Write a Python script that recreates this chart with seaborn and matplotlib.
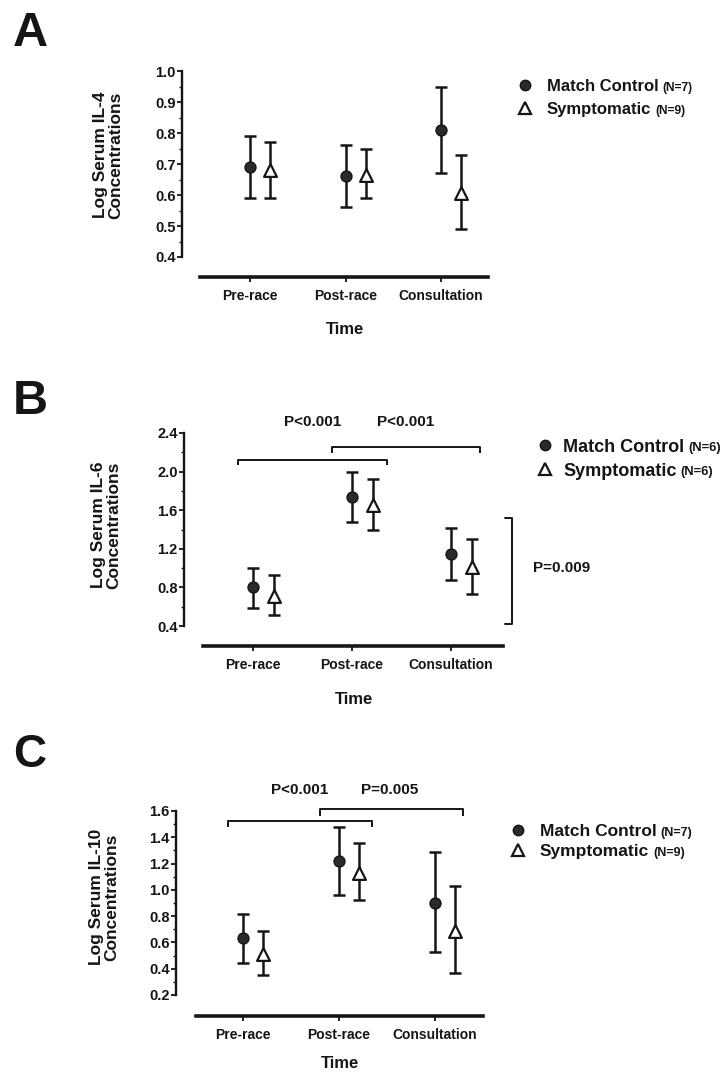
import matplotlib
matplotlib.use("Agg")
import matplotlib.pyplot as plt
import seaborn as sns
import numpy as np

# ---------------- data ----------------
times = ["Pre-race", "Post-race", "Consultation"]

il4_mc = [0.69, 0.66, 0.81]
il4_mc_lo = [0.59, 0.56, 0.67]
il4_mc_hi = [0.79, 0.76, 0.95]
il4_sy = [0.68, 0.665, 0.605]
il4_sy_lo = [0.59, 0.59, 0.49]
il4_sy_hi = [0.77, 0.75, 0.73]

il6_mc = [0.80, 1.74, 1.15]
il6_mc_lo = [0.59, 1.48, 0.88]
il6_mc_hi = [1.00, 2.00, 1.42]
il6_sy = [0.71, 1.65, 1.01]
il6_sy_lo = [0.51, 1.40, 0.73]
il6_sy_hi = [0.93, 1.92, 1.30]

il10_mc = [0.63, 1.22, 0.90]
il10_mc_lo = [0.44, 0.96, 0.53]
il10_mc_hi = [0.82, 1.48, 1.29]
il10_sy = [0.51, 1.13, 0.69]
il10_sy_lo = [0.35, 0.92, 0.37]
il10_sy_hi = [0.69, 1.36, 1.03]

a_yticks = [0.4, 0.5, 0.6, 0.7, 0.8, 0.9, 1.0]
b_yticks = [0.4, 0.8, 1.2, 1.6, 2.0, 2.4]
c_yticks = [0.2, 0.4, 0.6, 0.8, 1.0, 1.2, 1.4, 1.6]

a_n = ["(N=7)", "(N=9)"]
b_n = ["(N=6)", "(N=6)"]
c_n = ["(N=7)", "(N=9)"]

# ---------------- style ----------------
sns.set_style("ticks")
plt.rcParams["font.family"] = ["Liberation Sans", "DejaVu Sans"]
plt.rcParams["font.weight"] = "bold"

W, H = 725, 1074
DPI = 100
fig = plt.figure(figsize=(W / DPI, H / DPI), dpi=DPI)
INK = "#151515"
PX = 72.0 / DPI  # points per pixel

ov = fig.add_axes([0, 0, 1, 1], zorder=-1)
ov.set_xlim(0, W)
ov.set_ylim(H, 0)
ov.axis("off")


def make_panel(box, xl, xstart, ylim, yticks, minor_step, axis_off,
               mc, mc_lo, mc_hi, sy, sy_lo, sy_hi, tick_fs=10.5):
    l, r, t, b = box
    ax = fig.add_axes([l / W, 1 - b / H, (r - l) / W, (b - t) / H])
    ax.set_facecolor("none")
    xs = np.arange(len(times))
    off = 0.21
    mc = np.array(mc); sy = np.array(sy)
    ax.errorbar(xs, mc, yerr=[mc - np.array(mc_lo), np.array(mc_hi) - mc],
                fmt="none", ecolor=INK, elinewidth=1.8, capsize=4.6,
                capthick=1.8, zorder=2, clip_on=False)
    ax.errorbar(xs + off, sy, yerr=[sy - np.array(sy_lo), np.array(sy_hi) - sy],
                fmt="none", ecolor=INK, elinewidth=1.8, capsize=4.6,
                capthick=1.8, zorder=2, clip_on=False)
    sns.scatterplot(x=xs, y=mc, marker="o", s=62, color="#2a2a2a",
                    edgecolor=INK, linewidth=1.0, ax=ax, zorder=3, clip_on=False)
    sns.scatterplot(x=xs + off, y=sy, marker="^", s=85, color="white",
                    edgecolor=INK, linewidth=1.6, ax=ax, zorder=3, clip_on=False)
    ax.set_xlim(*xl)
    ax.set_ylim(*ylim)
    ax.set_yticks(yticks)
    ax.set_yticklabels([f"{v:.1f}" for v in yticks], fontsize=tick_fs,
                       fontweight="bold")
    ax.set_yticks(np.arange(ylim[0] + minor_step, ylim[1], minor_step), minor=True)
    ax.set_xticks(xs)
    ax.set_xticklabels(times, fontsize=11, fontweight="bold")
    for s in ["top", "right"]:
        ax.spines[s].set_visible(False)
    ax.spines["left"].set_linewidth(1.7)
    ax.spines["left"].set_color(INK)
    ax.spines["bottom"].set_linewidth(2.6)
    ax.spines["bottom"].set_color(INK)
    ax.spines["bottom"].set_position(("outward", axis_off * PX))
    ax.spines["bottom"].set_bounds(xstart, xl[1])
    ax.tick_params(axis="y", which="major", length=3.5, width=1.3, pad=1,
                   colors=INK)
    ax.tick_params(axis="y", which="minor", length=2.0, width=1.0, colors=INK)
    ax.tick_params(axis="x", length=3.5, width=1.3, pad=5, colors=INK)
    ax.set_xlabel("")
    ax.set_ylabel("")
    ax.grid(False)
    return ax


def bracket(ax, x0, x1, y, ydrop):
    ax.plot([x0, x0, x1, x1], [ydrop, y, y, ydrop], color=INK, lw=1.4,
            clip_on=False, solid_capstyle="butt")


def legend(x_mk, x_txt, y1, y2, fs, nlabels):
    ov.plot([x_mk], [y1], marker="o", ms=7.5, color="#2a2a2a", mec=INK, mew=1)
    ov.plot([x_mk], [y2], marker="^", ms=9, color="white", mec=INK, mew=1.6)
    cap = 0.36 * fs / PX  # half cap height in pixels
    texts = []
    for lab, y in [("Match Control", y1), ("Symptomatic", y2)]:
        texts.append(ov.text(x_txt, y + cap, lab, fontsize=fs, fontweight="bold",
                             va="baseline", ha="left", color=INK))
    fig.canvas.draw()
    for t, lab, y in zip(texts, nlabels, [y1, y2]):
        bb = t.get_window_extent()
        ov.text(bb.x1 + 4, y + cap, lab, fontsize=fs * 0.72, fontweight="bold",
                va="baseline", ha="left", color=INK)


# ---------------- Panel A ----------------
axA = make_panel((182, 488, 71, 257), (-0.712, 2.492), -0.524, (0.4, 1.0),
                 a_yticks, 0.05, 20,
                 il4_mc, il4_mc_lo, il4_mc_hi, il4_sy, il4_sy_lo, il4_sy_hi)
ov.text(13, 34, "A", fontsize=35, fontweight="bold", va="center", ha="left", color=INK)
ov.text(108, 155, "Log Serum IL-4\nConcentrations", rotation=90, fontsize=12.5,
        fontweight="bold", ha="center", va="center", linespacing=1.0, color=INK)
ov.text(345, 329, "Time", fontsize=12, fontweight="bold", ha="center",
        va="center", color=INK)
legend(525, 547, 85, 108, 12, a_n)

# ---------------- Panel B ----------------
axB = make_panel((184, 503, 433, 626), (-0.697, 2.525), -0.505, (0.4, 2.4),
                 b_yticks, 0.2, 20,
                 il6_mc, il6_mc_lo, il6_mc_hi, il6_sy, il6_sy_lo, il6_sy_hi)
bracket(axB, -0.15, 1.35, 2.12, 2.07)
bracket(axB, 0.80, 2.29, 2.255, 2.19)
axB.text(0.60, 2.51, "P<0.001", fontsize=11, fontweight="bold", ha="center",
         va="center", color=INK)
axB.text(1.54, 2.51, "P<0.001", fontsize=11, fontweight="bold", ha="center",
         va="center", color=INK)
axB.plot([2.55, 2.62, 2.62, 2.55], [1.52, 1.52, 0.42, 0.42], color=INK, lw=1.4,
         clip_on=False)
axB.text(2.83, 1.0, "P=0.009", fontsize=11, fontweight="bold", ha="left",
         va="center", color=INK)
ov.text(13, 401, "B", fontsize=35, fontweight="bold", va="center", ha="left", color=INK)
ov.text(106, 525, "Log Serum IL-6\nConcentrations", rotation=90, fontsize=12.5,
        fontweight="bold", ha="center", va="center", linespacing=1.0, color=INK)
ov.text(354, 699, "Time", fontsize=12, fontweight="bold", ha="center",
        va="center", color=INK)
legend(545, 563, 445, 469, 13, b_n)

# ---------------- Panel C ----------------
axC = make_panel((176, 483, 811, 995), (-0.698, 2.50), -0.49, (0.2, 1.6),
                 c_yticks, 0.1, 21,
                 il10_mc, il10_mc_lo, il10_mc_hi, il10_sy, il10_sy_lo, il10_sy_hi)
bracket(axC, -0.16, 1.34, 1.524, 1.478)
bracket(axC, 0.80, 2.29, 1.615, 1.56)
axC.text(0.59, 1.76, "P<0.001", fontsize=11, fontweight="bold", ha="center",
         va="center", color=INK)
axC.text(1.53, 1.76, "P=0.005", fontsize=11, fontweight="bold", ha="center",
         va="center", color=INK)
ov.text(13, 755, "C", fontsize=33, fontweight="bold", va="center", ha="left", color=INK)
ov.text(104, 897, "Log Serum IL-10\nConcentrations", rotation=90, fontsize=12.5,
        fontweight="bold", ha="center", va="center", linespacing=1.0, color=INK)
ov.text(340, 1063, "Time", fontsize=12, fontweight="bold", ha="center",
        va="center", color=INK)
legend(518, 540, 830, 850, 12.5, c_n)

fig.savefig("out.png", dpi=DPI)
